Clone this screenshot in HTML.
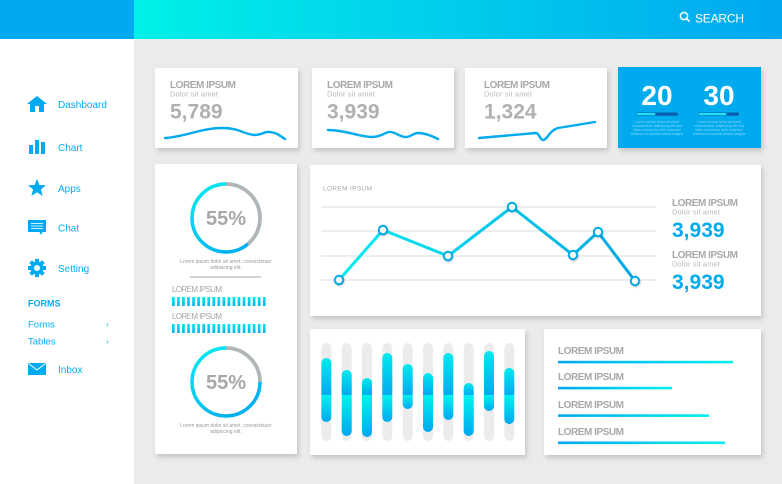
<!DOCTYPE html>
<html><head><meta charset="utf-8"><style>
html,body{margin:0;padding:0;background:#ebebeb;}
svg{display:block;font-family:"Liberation Sans",sans-serif;}
</style></head><body>
<svg width="782" height="484" viewBox="0 0 782 484" xmlns="http://www.w3.org/2000/svg">
<defs>
<linearGradient id="hg" gradientUnits="userSpaceOnUse" x1="134" y1="0" x2="782" y2="0">
<stop offset="0" stop-color="#00f0e8"/><stop offset="1" stop-color="#00a8f0"/></linearGradient>
<filter id="sh" x="-10%" y="-10%" width="125%" height="130%"><feDropShadow dx="2" dy="3" stdDeviation="2.5" flood-color="#000" flood-opacity="0.16"/></filter>
<filter id="sh2" x="-50%" y="-50%" width="200%" height="200%"><feDropShadow dx="0.5" dy="1" stdDeviation="0.8" flood-color="#000" flood-opacity="0.25"/></filter>
<linearGradient id="lg" gradientUnits="userSpaceOnUse" x1="339" y1="0" x2="635" y2="0">
<stop offset="0" stop-color="#00eef0"/><stop offset="1" stop-color="#00a6e2"/></linearGradient>
<linearGradient id="cg" x1="0" y1="0" x2="0.6" y2="1">
<stop offset="0" stop-color="#00eef0"/><stop offset="1" stop-color="#00b0f0"/></linearGradient>
<linearGradient id="up" x1="0" y1="0" x2="0" y2="1">
<stop offset="0" stop-color="#00eaee"/><stop offset="1" stop-color="#00aaf0"/></linearGradient>
<linearGradient id="dn" x1="0" y1="0" x2="0" y2="1">
<stop offset="0" stop-color="#00f2ee"/><stop offset="1" stop-color="#00a8f0"/></linearGradient>
<linearGradient id="seg" x1="0" y1="0" x2="0" y2="1">
<stop offset="0" stop-color="#00e8f0"/><stop offset="1" stop-color="#00b4ee"/></linearGradient>
<linearGradient id="hl" x1="0" y1="0" x2="1" y2="0">
<stop offset="0" stop-color="#00a8f0"/><stop offset="1" stop-color="#00f0ec"/></linearGradient>
<pattern id="segp" patternUnits="userSpaceOnUse" x="172" y="0" width="5.05" height="500">
<rect x="0" y="0" width="2.7" height="500" fill="#fff"/></pattern>
</defs>

<!-- background -->
<rect x="0" y="0" width="782" height="484" fill="#ebebeb"/>
<rect x="0" y="39" width="134" height="445" fill="#fff"/>
<rect x="0" y="0" width="134" height="39" fill="#00a9f0"/>
<rect x="134" y="0" width="648" height="39" fill="url(#hg)"/>

<!-- search -->
<circle cx="684" cy="16" r="3.6" fill="none" stroke="#fff" stroke-width="1.5"/>
<line x1="686.6" y1="18.6" x2="689.5" y2="21.5" stroke="#fff" stroke-width="1.6"/>
<text x="695" y="22.5" font-size="12" fill="#fff" textLength="49">SEARCH</text>

<!-- sidebar -->
<g fill="#00aaf0">
<polygon points="27,104 37,96 47,104"/>
<rect x="30" y="102" width="14" height="10"/>
<rect x="35" y="106" width="4" height="6" fill="#fff"/>
<rect x="29" y="145" width="4" height="9"/>
<rect x="35" y="140" width="4" height="14"/>
<rect x="41" y="142" width="4" height="12"/>
<polygon points="37,179 39.4,185 46,185.3 40.9,189.4 42.6,196 37,192.2 31.4,196 33.1,189.4 28,185.3 34.6,185"/>
<rect x="28" y="220" width="18" height="12"/>
<polygon points="39,231 43,231 41,235"/>
</g>
<g stroke="#fff" stroke-width="0.8"><line x1="31" y1="223.5" x2="43" y2="223.5"/><line x1="31" y1="226" x2="43" y2="226"/><line x1="31" y1="228.5" x2="43" y2="228.5"/></g>
<g transform="translate(37,268)" fill="#00aaf0">
<circle r="6.5"/>
<g><rect x="-2" y="-9" width="4" height="18"/><rect x="-9" y="-2" width="18" height="4"/>
<rect x="-2" y="-9" width="4" height="18" transform="rotate(45)"/><rect x="-2" y="-9" width="4" height="18" transform="rotate(-45)"/></g>
<circle r="3" fill="#fff"/>
</g>
<rect x="28" y="363" width="18" height="12" fill="#00aaf0"/>
<polyline points="28.5,363.5 37,370 45.5,363.5" fill="none" stroke="#fff" stroke-width="1"/>
<g font-size="10" fill="#00aeef">
<text x="58" y="108">Dashboard</text>
<text x="58" y="151">Chart</text>
<text x="58" y="192">Apps</text>
<text x="58" y="231.5">Chat</text>
<text x="58" y="272">Setting</text>
<text x="28" y="306.5" font-size="9" font-weight="bold">FORMS</text>
<text x="28" y="327.5" font-size="9.5">Forms</text>
<text x="28" y="344.5" font-size="9.5">Tables</text>
<text x="106" y="327" font-size="8">›</text>
<text x="106" y="344" font-size="8">›</text>
<text x="58" y="373">Inbox</text>
</g>

<!-- top cards -->
<g filter="url(#sh)">
<rect x="155" y="68" width="143" height="80" fill="#fff"/>
<rect x="312" y="68" width="142" height="80" fill="#fff"/>
<rect x="465" y="68" width="142" height="80" fill="#fff"/>
<rect x="618" y="67" width="143" height="81" fill="#00aaee"/>
<rect x="155" y="164" width="142" height="290" fill="#fff"/>
<rect x="310" y="165" width="451" height="151" fill="#fff"/>
<rect x="310" y="329" width="215" height="126" fill="#fff"/>
<rect x="544" y="329" width="217" height="126" fill="#fff"/>
</g>

<g font-weight="bold" fill="#a8a8a8" font-size="10">
<text x="170" y="88" textLength="66">LOREM IPSUM</text>
<text x="327" y="88" textLength="66">LOREM IPSUM</text>
<text x="484" y="88" textLength="66">LOREM IPSUM</text>
</g>
<g fill="#b8b8b8" font-size="7.5">
<text x="170" y="96.5" textLength="48">Dolor sit amet</text>
<text x="327" y="96.5" textLength="48">Dolor sit amet</text>
<text x="484" y="96.5" textLength="48">Dolor sit amet</text>
</g>
<g font-weight="bold" fill="#b0b0b0" font-size="21">
<text x="170" y="118.5">5,789</text>
<text x="327" y="118.5">3,939</text>
<text x="484" y="118.5">1,324</text>
</g>
<g fill="none" stroke="#00aaee" stroke-width="2.4" stroke-linecap="round">
<path d="M165,138 C185,137 200,128 223,128 C240,128 245,135 255,135 C262,135 265,131 270,132 C278,133 280,136 285,139"/>
<path d="M328,130 C345,130 360,137 372,137 C382,137 386,131 391,132 C397,133 400,137 406,137 C411,137 413,133 418,133 C425,133 432,136 438,139"/>
<path d="M479,138 L536,133 C539,133 540,140 543,140 C547,140 550,130 558,128 L595,122"/>
</g>

<!-- blue card -->
<g font-weight="bold" fill="#fff" font-size="28" text-anchor="middle">
<text x="657" y="105">20</text>
<text x="719" y="105">30</text>
</g>
<rect x="636" y="112.5" width="42" height="3.2" rx="1.6" fill="#0a5fae"/>
<rect x="636.5" y="113" width="19" height="2.2" rx="1.1" fill="#22e2f0"/>
<rect x="698" y="112.5" width="41" height="3.2" rx="1.6" fill="#0a5fae"/>
<rect x="698.5" y="113" width="28" height="2.2" rx="1.1" fill="#22e2f0"/>
<g fill="#86d8f8" font-size="3.6" text-anchor="middle">
<text x="657" y="123">Lorem ipsum dolor sit amet</text>
<text x="657" y="127">consectetuer adipiscing elit sed</text>
<text x="657" y="131">diam nonummy nibh euismod</text>
<text x="657" y="135">tincidunt ut laoreet dolore magna</text>
<text x="719" y="123">Lorem ipsum dolor sit amet</text>
<text x="719" y="127">consectetuer adipiscing elit sed</text>
<text x="719" y="131">diam nonummy nibh euismod</text>
<text x="719" y="135">tincidunt ut laoreet dolore magna</text>
</g>

<!-- left tall card -->
<circle cx="226" cy="218" r="34" fill="none" stroke="url(#cg)" stroke-width="3.5"/>
<path d="M226,184 A34,34 0 0 1 247.9,244" fill="none" stroke="#b4b4b4" stroke-width="3.5"/>
<text x="226" y="225" text-anchor="middle" font-weight="bold" font-size="20" fill="#a8a8a8">55%</text>
<g fill="#999" font-size="5" text-anchor="middle">
<text x="226" y="263">Lorem ipsum dolor sit amet, consectetuer</text>
<text x="226" y="269">adipiscing elit.</text>
<text x="226" y="427">Lorem ipsum dolor sit amet, consectetuer</text>
<text x="226" y="433">adipiscing elit.</text>
</g>
<line x1="190" y1="277" x2="261" y2="277" stroke="#bbb" stroke-width="1.3"/>
<g fill="#a8a8a8" font-size="8">
<text x="172" y="292" textLength="50">LOREM IPSUM</text>
<text x="172" y="319" textLength="50">LOREM IPSUM</text>
</g>
<g>
<rect x="172" y="297" width="96" height="9" fill="url(#seg)"/>
<rect x="172" y="324" width="96" height="9" fill="url(#seg)"/>
</g>
<g fill="#fff">
<rect x="174.7" y="296" width="2.35" height="11"/><rect x="179.75" y="296" width="2.35" height="11"/><rect x="184.8" y="296" width="2.35" height="11"/><rect x="189.85" y="296" width="2.35" height="11"/><rect x="194.9" y="296" width="2.35" height="11"/><rect x="199.95" y="296" width="2.35" height="11"/><rect x="205" y="296" width="2.35" height="11"/><rect x="210.05" y="296" width="2.35" height="11"/><rect x="215.1" y="296" width="2.35" height="11"/><rect x="220.15" y="296" width="2.35" height="11"/><rect x="225.2" y="296" width="2.35" height="11"/><rect x="230.25" y="296" width="2.35" height="11"/><rect x="235.3" y="296" width="2.35" height="11"/><rect x="240.35" y="296" width="2.35" height="11"/><rect x="245.4" y="296" width="2.35" height="11"/><rect x="250.45" y="296" width="2.35" height="11"/><rect x="255.5" y="296" width="2.35" height="11"/><rect x="260.55" y="296" width="2.35" height="11"/><rect x="265.6" y="296" width="2.5" height="11"/>
<rect x="174.7" y="323" width="2.35" height="11"/><rect x="179.75" y="323" width="2.35" height="11"/><rect x="184.8" y="323" width="2.35" height="11"/><rect x="189.85" y="323" width="2.35" height="11"/><rect x="194.9" y="323" width="2.35" height="11"/><rect x="199.95" y="323" width="2.35" height="11"/><rect x="205" y="323" width="2.35" height="11"/><rect x="210.05" y="323" width="2.35" height="11"/><rect x="215.1" y="323" width="2.35" height="11"/><rect x="220.15" y="323" width="2.35" height="11"/><rect x="225.2" y="323" width="2.35" height="11"/><rect x="230.25" y="323" width="2.35" height="11"/><rect x="235.3" y="323" width="2.35" height="11"/><rect x="240.35" y="323" width="2.35" height="11"/><rect x="245.4" y="323" width="2.35" height="11"/><rect x="250.45" y="323" width="2.35" height="11"/><rect x="255.5" y="323" width="2.35" height="11"/><rect x="260.55" y="323" width="2.35" height="11"/><rect x="265.6" y="323" width="2.5" height="11"/>
</g>
<circle cx="226" cy="382" r="34" fill="none" stroke="url(#cg)" stroke-width="3.5"/>
<path d="M226,348 A34,34 0 0 1 260,382" fill="none" stroke="#b4b4b4" stroke-width="3.5"/>
<text x="226" y="389" text-anchor="middle" font-weight="bold" font-size="20" fill="#a8a8a8">55%</text>

<!-- line chart -->
<text x="323" y="190.5" font-size="6.5" fill="#aaa" textLength="49">LOREM IPSUM</text>
<g stroke="#e2e2e2" stroke-width="1.2">
<line x1="321" y1="207" x2="656" y2="207"/>
<line x1="321" y1="231" x2="656" y2="231"/>
<line x1="321" y1="256" x2="656" y2="256"/>
<line x1="321" y1="280" x2="656" y2="280"/>
</g>
<polyline points="339,280 383,230 448,256 512,207 573,255 598,232 635,281" fill="none" stroke="url(#lg)" stroke-width="3" stroke-linejoin="round"/>
<g fill="#fff" stroke="#00a8e6" stroke-width="2" filter="url(#sh2)">
<circle cx="339" cy="280" r="4.2"/><circle cx="383" cy="230" r="4.2"/><circle cx="448" cy="256" r="4.2"/><circle cx="512" cy="207" r="4.2"/><circle cx="573" cy="255" r="4.2"/><circle cx="598" cy="232" r="4.2"/><circle cx="635" cy="281" r="4.2"/>
</g>
<g font-weight="bold" fill="#a8a8a8" font-size="10">
<text x="672" y="206" textLength="66">LOREM IPSUM</text>
<text x="672" y="258" textLength="66">LOREM IPSUM</text>
</g>
<g fill="#b8b8b8" font-size="7.5">
<text x="672" y="214.5" textLength="48">Dolor sit amet</text>
<text x="672" y="266.5" textLength="48">Dolor sit amet</text>
</g>
<g font-weight="bold" fill="#00aaee" font-size="21">
<text x="672" y="237">3,939</text>
<text x="672" y="289">3,939</text>
</g>

<!-- bar chart -->
<g fill="#ececec">
<rect x="321.3" y="343" width="10" height="98" rx="5"/><rect x="341.7" y="343" width="10" height="98" rx="5"/><rect x="362" y="343" width="10" height="98" rx="5"/><rect x="382.3" y="343" width="10" height="98" rx="5"/><rect x="402.7" y="343" width="10" height="98" rx="5"/><rect x="423" y="343" width="10" height="98" rx="5"/><rect x="443.3" y="343" width="10" height="98" rx="5"/><rect x="463.7" y="343" width="10" height="98" rx="5"/><rect x="484" y="343" width="10" height="98" rx="5"/><rect x="504.3" y="343" width="10" height="98" rx="5"/>
</g>
<g fill="url(#up)">
<path d="M321.3,395 V363 a5,5 0 0 1 10,0 V395 Z"/>
<path d="M341.7,395 V375 a5,5 0 0 1 10,0 V395 Z"/>
<path d="M362,395 V383 a5,5 0 0 1 10,0 V395 Z"/>
<path d="M382.3,395 V358 a5,5 0 0 1 10,0 V395 Z"/>
<path d="M402.7,395 V369 a5,5 0 0 1 10,0 V395 Z"/>
<path d="M423,395 V378 a5,5 0 0 1 10,0 V395 Z"/>
<path d="M443.3,395 V358 a5,5 0 0 1 10,0 V395 Z"/>
<path d="M463.7,395 V388 a5,5 0 0 1 10,0 V395 Z"/>
<path d="M484,395 V356 a5,5 0 0 1 10,0 V395 Z"/>
<path d="M504.3,395 V373 a5,5 0 0 1 10,0 V395 Z"/>
</g>
<g fill="url(#dn)">
<path d="M321.3,395 V417 a5,5 0 0 0 10,0 V395 Z"/>
<path d="M341.7,395 V431 a5,5 0 0 0 10,0 V395 Z"/>
<path d="M362,395 V432 a5,5 0 0 0 10,0 V395 Z"/>
<path d="M382.3,395 V417 a5,5 0 0 0 10,0 V395 Z"/>
<path d="M402.7,395 V404 a5,5 0 0 0 10,0 V395 Z"/>
<path d="M423,395 V427 a5,5 0 0 0 10,0 V395 Z"/>
<path d="M443.3,395 V415 a5,5 0 0 0 10,0 V395 Z"/>
<path d="M463.7,395 V431 a5,5 0 0 0 10,0 V395 Z"/>
<path d="M484,395 V406 a5,5 0 0 0 10,0 V395 Z"/>
<path d="M504.3,395 V419 a5,5 0 0 0 10,0 V395 Z"/>
</g>

<!-- list card -->
<g font-weight="bold" fill="#a8a8a8" font-size="10">
<text x="558" y="354" textLength="66">LOREM IPSUM</text>
<text x="558" y="380" textLength="66">LOREM IPSUM</text>
<text x="558" y="408" textLength="66">LOREM IPSUM</text>
<text x="558" y="435" textLength="66">LOREM IPSUM</text>
</g>
<rect x="558" y="360.8" width="175" height="2.6" fill="url(#hl)"/>
<rect x="558" y="386.8" width="114" height="2.6" fill="url(#hl)"/>
<rect x="558" y="414.3" width="151" height="2.6" fill="url(#hl)"/>
<rect x="558" y="441.5" width="167" height="2.6" fill="url(#hl)"/>
</svg>
</body></html>
